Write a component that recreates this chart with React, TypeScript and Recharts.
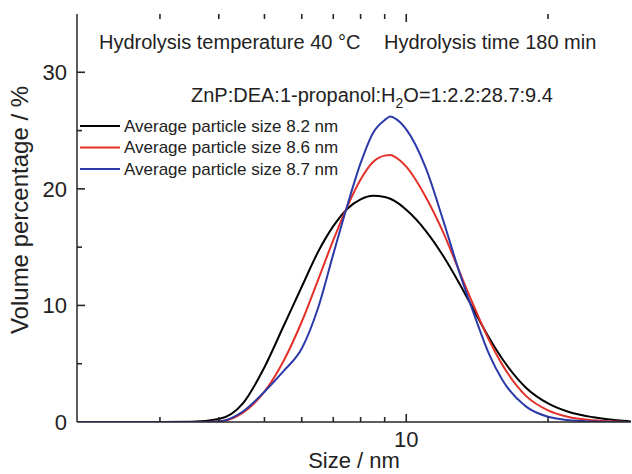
import { LineChart, Line, XAxis, YAxis, ReferenceLine } from "recharts";

// particle size (nm), log axis
const sizes = [2, 2.5, 3, 3.5, 4, 4.5, 5, 5.5, 6, 6.5, 7, 7.5, 8, 8.5, 9, 9.25, 9.5, 10, 11, 12, 13, 14, 15, 16, 18, 20, 22, 25, 28, 30];

// volume percentage for each run
const avg82 = [0, 0, 0, 0.02, 0.25, 1.6, 4.7, 8.3, 11.6, 14.6, 16.8, 18.3, 19.1, 19.4, 19.3, 19.15, 18.9, 18.2, 16.4, 14.2, 11.8, 9.4, 7.2, 5.4, 2.9, 1.6, 0.9, 0.4, 0.15, 0.05];
const avg86 = [0, 0, 0, 0, 0.05, 0.8, 2.6, 5.3, 8.6, 12.2, 15.6, 18.5, 20.8, 22.3, 22.85, 22.9, 22.7, 21.9, 19.3, 16.2, 12.8, 9.7, 7.0, 4.9, 2.2, 1.0, 0.45, 0.15, 0.04, 0];
const avg87 = [0, 0, 0, 0, 0.05, 0.9, 2.6, 4.4, 6.3, 9.8, 14.4, 18.6, 22.2, 24.8, 25.9, 26.2, 26.0, 25.1, 21.8, 17.2, 12.7, 9.0, 5.8, 3.6, 1.3, 0.45, 0.17, 0.04, 0, 0];

const xTicks = [3, 4, 5, 6, 7, 8, 9, 10, 20];
const xLabels = [10];
const yTicks = [0, 5, 10, 15, 20, 25, 30, 35];
const yLabels = [0, 10, 20, 30];
const X_DOMAIN = [2, 30];
const Y_DOMAIN = [0, 35];

const series = [
  { key: "s82", name: "Average particle size 8.2 nm", color: "#000000" },
  { key: "s86", name: "Average particle size 8.6 nm", color: "#e3312a" },
  { key: "s87", name: "Average particle size 8.7 nm", color: "#2b3aa8" },
];

const data = sizes.map((size, i) => ({ size, s82: avg82[i], s86: avg86[i], s87: avg87[i] }));

const FONT = "'Liberation Sans', Arial, Helvetica, sans-serif";
const AXIS = "#262626";
const TEXT = "#222";
const CHART_W = 632;
const CHART_H = 474;
const PLOT_TOP = 14;
const PLOT_LEFT = 77;
const PLOT_RIGHT = 1;
const X_AXIS_H = 52;
const PLOT_W = CHART_W - PLOT_LEFT - PLOT_RIGHT;
const PLOT_H = CHART_H - PLOT_TOP - X_AXIS_H;

// inward tick lengths (px) turned into data units for the reference segments
const MAJOR = 8;
const MINOR = 5;
const yPerPx = (Y_DOMAIN[1] - Y_DOMAIN[0]) / PLOT_H;
const logPerPx = Math.log10(X_DOMAIN[1] / X_DOMAIN[0]) / PLOT_W;

// tick labels on the bottom axis; tick marks mirrored on the top frame
function BottomTick(props: any) {
  const x = Number(props.x);
  const y = Number(props.y);
  const major = xLabels.includes(props.payload.value);
  const len = major ? MAJOR : MINOR;
  return (
    <g>
      <line x1={x} x2={x} y1={PLOT_TOP} y2={PLOT_TOP + len} style={{ stroke: AXIS, strokeWidth: 1.6 }} />
      {major && (
        <text x={x} y={y + 25} textAnchor="middle" fontSize={22} fill={TEXT} fontFamily={FONT}>
          {props.payload.value}
        </text>
      )}
    </g>
  );
}

function LeftTick(props: any) {
  const x = Number(props.x);
  const y = Number(props.y);
  const v = props.payload.value;
  if (!yLabels.includes(v)) return <g />;
  return (
    <text x={x - 10} y={y} dy="0.36em" textAnchor="end" fontSize={22} fill={TEXT} fontFamily={FONT}>
      {v}
    </text>
  );
}

export default function App() {
  return (
    <div style={{ position: "absolute", left: 0, top: 0, width: CHART_W, height: CHART_H, background: "#fff" }}>
      <LineChart
        width={CHART_W}
        height={CHART_H}
        data={data}
        margin={{ top: PLOT_TOP, right: PLOT_RIGHT, bottom: 0, left: 0 }}
      >
        <XAxis
          dataKey="size"
          type="number"
          scale="log"
          domain={X_DOMAIN}
          allowDataOverflow
          ticks={xTicks}
          interval={0}
          height={X_AXIS_H}
          tickSize={0}
          tickMargin={0}
          tickLine={false}
          tick={(p: any) => <BottomTick {...p} />}
          axisLine={{ stroke: AXIS, strokeWidth: 1.5 }}
        />
        <XAxis
          xAxisId="top"
          orientation="top"
          dataKey="size"
          type="number"
          scale="log"
          domain={X_DOMAIN}
          allowDataOverflow
          height={0}
          tick={false}
          tickLine={false}
          axisLine={{ stroke: AXIS, strokeWidth: 1.5 }}
        />
        <YAxis
          type="number"
          domain={Y_DOMAIN}
          allowDataOverflow
          ticks={yTicks}
          interval={0}
          width={PLOT_LEFT}
          tickSize={0}
          tickMargin={0}
          tickLine={false}
          tick={(p: any) => <LeftTick {...p} />}
          axisLine={{ stroke: AXIS, strokeWidth: 1.5 }}
        />
        <YAxis
          yAxisId="right"
          orientation="right"
          type="number"
          domain={Y_DOMAIN}
          width={0}
          tick={false}
          tickLine={false}
          axisLine={{ stroke: AXIS, strokeWidth: 1.5 }}
        />
        {series.map((s) => (
          <Line
            key={s.key}
            dataKey={s.key}
            name={s.name}
            type="monotone"
            stroke={s.color}
            strokeWidth={2}
            dot={false}
            isAnimationActive={false}
          />
        ))}
        {xTicks.map((t) => {
          const len = xLabels.includes(t) ? MAJOR : MINOR;
          return (
            <ReferenceLine
              key={`xt-${t}`}
              segment={[
                { x: t, y: Y_DOMAIN[0] },
                { x: t, y: Y_DOMAIN[0] + len * yPerPx },
              ]}
              stroke={AXIS}
              strokeWidth={1.6}
              ifOverflow="visible"
            />
          );
        })}
        {yTicks
          .filter((t) => t > Y_DOMAIN[0] && t < Y_DOMAIN[1])
          .map((t) => {
            const len = yLabels.includes(t) ? MAJOR : MINOR;
            return (
              <ReferenceLine
                key={`yt-${t}`}
                segment={[
                  { x: X_DOMAIN[0], y: t },
                  { x: X_DOMAIN[0] * Math.pow(10, len * logPerPx), y: t },
                ]}
                stroke={AXIS}
                strokeWidth={1.6}
                ifOverflow="visible"
              />
            );
          })}
      </LineChart>
      <svg
        width={CHART_W}
        height={CHART_H}
        style={{ position: "absolute", left: 0, top: 0, pointerEvents: "none" }}
        fontFamily={FONT}
        fill={TEXT}
      >
        <text x={99} y={49} fontSize={20}>Hydrolysis temperature 40 °C</text>
        <text x={384} y={49} fontSize={20}>Hydrolysis time 180 min</text>
        <text x={191} y={102} fontSize={20}>
          ZnP:DEA:1-propanol:H
          <tspan dy={6} fontSize={14}>2</tspan>
          <tspan dy={-6}>O=1:2.2:28.7:9.4</tspan>
        </text>
        {series.map((s, i) => (
          <g key={s.key}>
            <line x1={80} x2={120} y1={126 + i * 21.5} y2={126 + i * 21.5} stroke={s.color} strokeWidth={2} />
            <text x={124} y={126 + i * 21.5} dy="0.35em" fontSize={17}>{s.name}</text>
          </g>
        ))}
        <text x={354} y={468} fontSize={22} textAnchor="middle">Size / nm</text>
        <text x={20} y={210} fontSize={24} textAnchor="middle" dy="0.35em" transform="rotate(-90 20 210)">
          Volume percentage / %
        </text>
      </svg>
    </div>
  );
}
